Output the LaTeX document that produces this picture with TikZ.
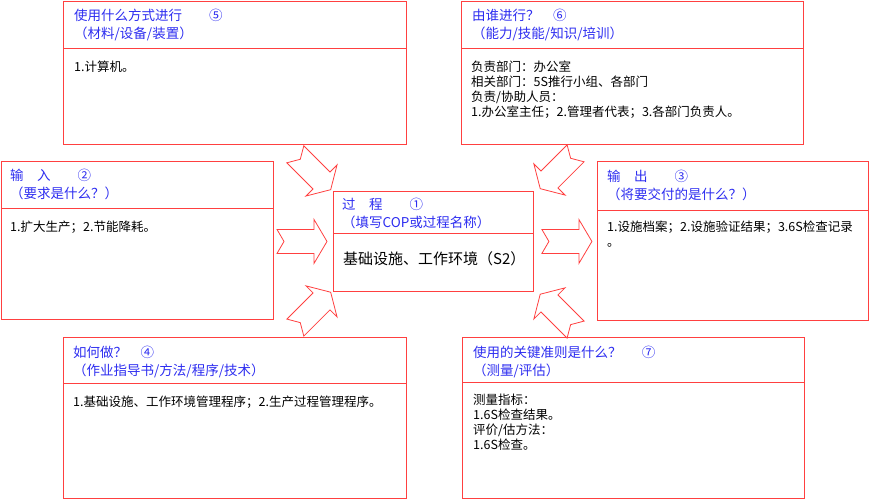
\documentclass[tikz,border=0pt]{standalone}
\usepackage{fontspec}
\setmainfont{Noto Sans CJK SC}
\usetikzlibrary{positioning,calc}
\definecolor{framered}{RGB}{255,64,64}
\definecolor{headblue}{RGB}{45,45,240}
\tikzset{
	boxframe/.style={draw=framered, line width=0.9pt, anchor=north west, inner sep=0pt},
	sepline/.style={draw=framered, line width=0.9pt},
	headtext/.style={anchor=north west, inner sep=0pt, align=left, text=headblue, font=\fontsize{13.5}{18}\selectfont},
	bodytext/.style={anchor=north west, inner sep=0pt, align=left, font=\fontsize{12.5}{15}\selectfont},
	bigarrow/.pic={\draw[framered, line width=0.8pt] (-25,-12) -- (12,-12) -- (12,-22) -- (25,0) -- (12,22) -- (12,12) -- (-25,12) -- (-18,0) -- cycle;}
}

\begin{document}
\begin{tikzpicture}[x=1pt, y=-1pt]
		\useasboundingbox (0,0) rectangle (870,500);
		
		% boxes
		\node[boxframe, minimum width=343pt, minimum height=143pt] (means) at (63,1) {};
		\node[boxframe, minimum width=342pt, minimum height=143pt] (who) at (461,1) {};
		\node[boxframe, minimum width=272pt, minimum height=158pt] (input) at (1,161) {};
		\node[boxframe, minimum width=271pt, minimum height=159pt] (output) at (597,161) {};
		\node[boxframe, minimum width=200pt, minimum height=100pt] (proc) at (333,191) {};
		\node[boxframe, minimum width=343pt, minimum height=161pt] (how) at (63,337) {};
		\node[boxframe, minimum width=342pt, minimum height=161pt] (measure) at (462,337) {};
		
		\coordinate (meansS) at ($(means.north west)+(0,47)$);
		\coordinate (whoS) at ($(who.north west)+(0,47)$);
		\coordinate (inputS) at ($(input.north west)+(0,47)$);
		\coordinate (outputS) at ($(output.north west)+(0,49)$);
		\coordinate (procS) at ($(proc.north west)+(0,42)$);
		\coordinate (howS) at ($(how.north west)+(0,46)$);
		\coordinate (measureS) at ($(measure.north west)+(0,45)$);
		
		\draw[sepline] (meansS) -- (meansS -| means.east)
		(whoS) -- (whoS -| who.east)
		(inputS) -- (inputS -| input.east)
		(outputS) -- (outputS -| output.east)
		(procS) -- (procS -| proc.east)
		(howS) -- (howS -| how.east)
		(measureS) -- (measureS -| measure.east);
		
		% headers
		\node[headtext] (meansH) at ($(means.north west)+(11,8)$) {使用什么方式进行　　⑤\\（材料/设备/装置）};
		\node[headtext] (whoH) at ($(who.north west)+(11,8)$) {由谁进行？　⑥\\（能力/技能/知识/培训）};
		\node[headtext] (inputH) at ($(input.north west)+(9,8)$) {输　入　　②\\（要求是什么？）};
		\node[headtext] (outputH) at ($(output.north west)+(10,9)$) {输　出　　③\\（将要交付的是什么？）};
		\node[headtext] (procH) at ($(proc.north west)+(9,7)$) {过　程　　①\\（填写COP或过程名称）};
		\node[headtext] (howH) at ($(how.north west)+(10,9)$) {如何做？　④\\（作业指导书/方法/程序/技术）};
		\node[headtext] (measureH) at ($(measure.north west)+(11,9)$) {使用的关键准则是什么？\hspace{1.5em}⑦\\（测量/评估）};
		
		% contents
		\node[bodytext] (meansB) at ($(meansS)+(11,13)$) {1.计算机。};
		\node[bodytext] (whoB) at ($(whoS)+(10,13)$) {负责部门：办公室\\相关部门：5S推行小组、各部门\\负责/协助人员：\\1.办公室主任；2.管理者代表；3.各部门负责人。};
		\node[bodytext] (inputB) at ($(inputS)+(9,13)$) {1.扩大生产；2.节能降耗。};
		\node[bodytext] (outputB) at ($(outputS)+(10,11)$) {1.设施档案；2.设施验证结果；3.6S检查记录\\。};
		\node[bodytext, font=\fontsize{15}{18}\selectfont] (procB) at ($(procS)+(10,18)$) {基础设施、工作环境（S2）};
		\node[bodytext] (howB) at ($(howS)+(10,13)$) {1.基础设施、工作环境管理程序；2.生产过程管理程序。};
		\node[bodytext] (measureB) at ($(measureS)+(11,12)$) {测量指标：\\1.6S检查结果。\\评价/估方法：\\1.6S检查。};
		
		% block arrows into and out of the process
		\pic[rotate=-45] at ($(proc.north west)+(-20,-19)$) {bigarrow};
		\pic at ($(proc.west)+(-31,0)$) {bigarrow};
		\pic[rotate=45] at ($(proc.south west)+(-20,18)$) {bigarrow};
		\pic[rotate=-135] at ($(proc.north east)+(24,-20)$) {bigarrow};
		\pic at ($(proc.east)+(33,0)$) {bigarrow};
		\pic[rotate=135] at ($(proc.south east)+(24,20)$) {bigarrow};
\end{tikzpicture}
\end{document}
